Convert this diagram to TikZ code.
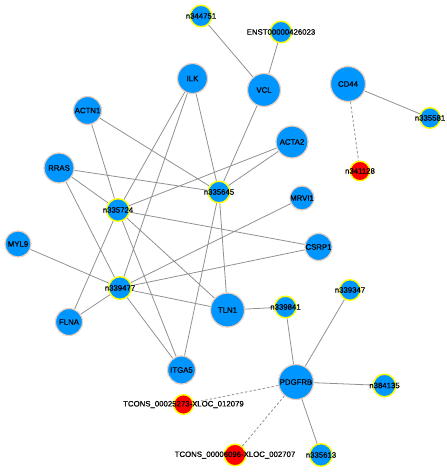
\documentclass[tikz,border=0pt]{standalone}
\usepackage{fontspec}
\setmainfont{Liberation Sans}
\newfontfamily\lblfont[FakeBold=0.6]{Liberation Sans}
\usetikzlibrary{backgrounds}
\definecolor{nodeblue}{RGB}{0,150,255}
\definecolor{halo}{RGB}{236,206,190}
\definecolor{ringyellow}{RGB}{255,255,0}
\definecolor{lncred}{RGB}{255,0,0}
\definecolor{edgegray}{RGB}{145,145,145}
\tikzset{
  gene/.style={circle,fill=nodeblue,draw=halo,line width=1.2pt,inner sep=0pt,
    minimum size=#1},
  gene/.default=30pt,
  rna/.style={circle,fill=nodeblue,draw=ringyellow,line width=1.4pt,
    inner sep=0pt,minimum size=#1},
  rna/.default=21.6pt,
  rnared/.style={rna=#1,fill=lncred},
  rnared/.default=19.6pt,
  every label/.style={font=\lblfont\fontsize{7.8}{9}\selectfont,inner sep=0pt},
  gedge/.style={edgegray,line width=0.8pt},
  dedge/.style={gedge,dashed,dash pattern=on 2.5pt off 2pt},
}

\begin{document}
\begin{tikzpicture}[x=1pt,y=-1pt]
  \useasboundingbox (0,0) rectangle (447,472);
  % genes
  \node[gene=30pt,label={center:ILK}] (ilk) at (192.5,78.5) {};
  \node[gene=28pt,label={center:ACTN1}] (actn1) at (87.5,110.5) {};
  \node[gene=30pt,label={center:RRAS}] (rras) at (59,168) {};
  \node[gene=33pt,label={center:VCL}] (vcl) at (264,90) {};
  \node[gene=35pt,label={center:CD44}] (cd44) at (348,84) {};
  \node[gene=32pt,label={center:ACTA2}] (acta2) at (292,142) {};
  \node[gene=24pt,label={center:MRVI1}] (mrvi1) at (302,198) {};
  \node[gene=26pt,label={center:MYL9}] (myl9) at (18,244) {};
  \node[gene=27pt,label={center:CSRP1}] (csrp1) at (318.5,247) {};
  \node[gene=27pt,label={center:FLNA}] (flna) at (69,322) {};
  \node[gene=34pt,label={center:TLN1}] (tln1) at (227.5,310) {};
  \node[gene=28pt,label={center:ITGA5}] (itga5) at (181.5,370) {};
  \node[gene=35pt,label={center:PDGFRB}] (pdgfrb) at (296,382) {};
  % lncRNAs
  \node[rna,label={center:n344751}] (n344751) at (201,16) {};
  \node[rna,label={center:ENST00000426023}] (ens) at (281,32) {};
  \node[rna=20.6pt,label={center:n335581}] (n335581) at (430,118) {};
  \node[rna,label={center:n335645}] (n335645) at (219,192) {};
  \node[rna=22.6pt,label={center:n335724}] (n335724) at (118,210) {};
  \node[rna=22.6pt,label={center:n339477}] (n339477) at (120,288) {};
  \node[rna,label={center:n339841}] (n339841) at (285.5,307) {};
  \node[rna=20.6pt,label={center:n339347}] (n339347) at (350,290) {};
  \node[rna=22.6pt,label={center:n384135}] (n384135) at (384.5,385.5) {};
  \node[rna=22.6pt,label={center:n335613}] (n335613) at (321,455) {};
  \node[rnared,label={center:n341128}] (n341128) at (360,171) {};
  \node[rnared,label={center:TCONS\_00025273-XLOC\_012079}] (tcons25273) at (183.5,404.5) {};
  \node[rnared=21.6pt,label={center:TCONS\_00006096-XLOC\_002707}] (tcons6096) at (235,455) {};
  \begin{scope}[on background layer]
    \draw[gedge] (n344751)--(vcl) (ens)--(vcl) (vcl)--(n335645) (cd44)--(n335581)
      (ilk)--(n335724) (ilk)--(n339477) (ilk)--(n335645)
      (actn1)--(n335724) (actn1)--(n335645)
      (rras)--(n335724) (rras)--(n335645) (rras)--(n339477)
      (acta2)--(n335724) (acta2)--(n335645)
      (mrvi1)--(n339477) (csrp1)--(n335724) (csrp1)--(n339477)
      (myl9)--(n339477) (flna)--(n339477) (flna)--(n335724)
      (n335724)--(tln1) (n335724)--(itga5) (n335645)--(tln1) (n335645)--(itga5)
      (n339477)--(tln1) (n339477)--(itga5)
      (tln1)--(n339841) (pdgfrb)--(n339841) (pdgfrb)--(n339347)
      (pdgfrb)--(n384135) (pdgfrb)--(n335613);
    \draw[dedge] (cd44)--(n341128) (pdgfrb)--(tcons25273) (pdgfrb)--(tcons6096);
  \end{scope}
\end{tikzpicture}
\end{document}
